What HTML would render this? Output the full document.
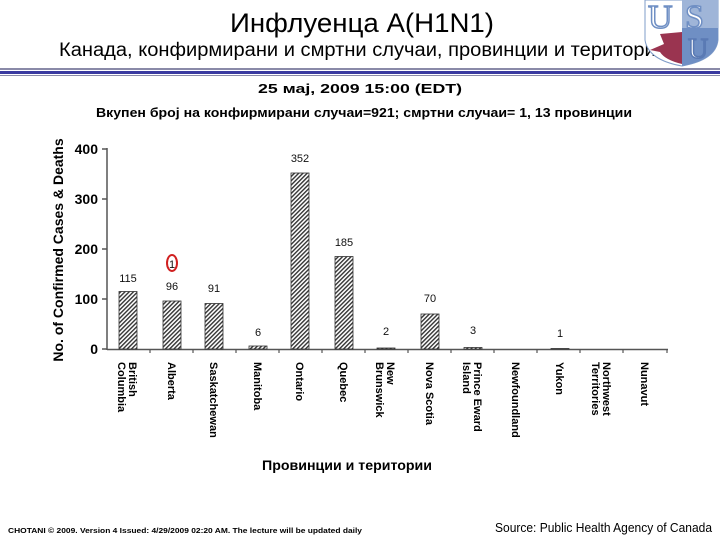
<!DOCTYPE html>
<html><head><meta charset="utf-8"><style>html,body{margin:0;padding:0;background:#fff}svg{display:block}</style></head>
<body>
<svg width="720" height="540" viewBox="0 0 720 540" xmlns="http://www.w3.org/2000/svg" font-family="'Liberation Sans Narrow','Liberation Sans',sans-serif">
<defs>
<pattern id="h" width="3" height="3" patternUnits="userSpaceOnUse" patternTransform="rotate(45)">
<rect width="3" height="3" fill="#fff"/><rect width="1.4" height="3" fill="#333"/>
</pattern>
</defs>
<text x="362" y="32" text-anchor="middle" font-size="27" font-family="'Liberation Sans',sans-serif" textLength="264" lengthAdjust="spacingAndGlyphs">Инфлуенца A(H1N1)</text>
<text x="363" y="56" text-anchor="middle" font-size="19" textLength="608" lengthAdjust="spacingAndGlyphs">Канада, конфирмирани и смртни случаи, провинции и територии</text>
<!-- logo -->
<g>
<path d="M645 0 V40 Q648 60 682 66 Q716 60 718 40 V0 Z" fill="#fff" stroke="#7f9cc8" stroke-width="1"/>
<path d="M682 0 H718 V40 Q716 60 682 66 Z" fill="#9fb5d8"/>
<path d="M682 28 H718 V40 Q716 60 682 66 Z" fill="#6f8fc4"/>
<text x="648" y="28" font-family="'Liberation Serif',serif" font-size="34" fill="#fff" stroke="#6f8fc4" stroke-width="1.5">U</text>
<text x="685" y="28" font-family="'Liberation Serif',serif" font-size="34" fill="#fff" stroke="#6f8fc4" stroke-width="1.5">S</text>
<text x="688" y="58" font-family="'Liberation Serif',serif" font-size="28" fill="#fff" stroke="#5a7ab4" stroke-width="1.5">U</text>
<path d="M660 34 L682 32 L682 64 Q665 60 660 52 L650 50 L664 44 Z" fill="#9a3450"/>
</g>
<rect x="0" y="68" width="720" height="2" fill="#8a8aa8"/>
<rect x="0" y="71" width="720" height="3" fill="#3a3aa0"/>
<rect x="0" y="75" width="720" height="1" fill="#8a8aa8"/>
<text x="360" y="93" text-anchor="middle" font-size="13" font-weight="bold" textLength="204" lengthAdjust="spacingAndGlyphs">25 мај, 2009 15:00 (EDT)</text>
<text x="364" y="117" text-anchor="middle" font-size="13" font-weight="bold" textLength="536" lengthAdjust="spacingAndGlyphs">Вкупен број на конфирмирани случаи=921; смртни случаи= 1, 13  провинции</text>
<!-- axes -->
<g stroke="#555" stroke-width="1.5" fill="none">
<line x1="107" y1="148" x2="107" y2="350"/>
<line x1="107" y1="349.5" x2="668" y2="349.5"/>
<line x1="102" y1="149" x2="107" y2="149"/>
<line x1="102" y1="199" x2="107" y2="199"/>
<line x1="102" y1="249" x2="107" y2="249"/>
<line x1="102" y1="299" x2="107" y2="299"/>
<line x1="102" y1="349" x2="107" y2="349"/>
</g>
<g stroke="#555" stroke-width="1.2">
<line x1="150" y1="349" x2="150" y2="353"/><line x1="193" y1="349" x2="193" y2="353"/><line x1="236" y1="349" x2="236" y2="353"/><line x1="279" y1="349" x2="279" y2="353"/><line x1="322" y1="349" x2="322" y2="353"/><line x1="365" y1="349" x2="365" y2="353"/><line x1="408" y1="349" x2="408" y2="353"/><line x1="451" y1="349" x2="451" y2="353"/><line x1="494" y1="349" x2="494" y2="353"/><line x1="537" y1="349" x2="537" y2="353"/><line x1="580" y1="349" x2="580" y2="353"/><line x1="623" y1="349" x2="623" y2="353"/><line x1="667" y1="349" x2="667" y2="353"/>
</g>
<g font-family="'Liberation Sans',sans-serif" font-weight="bold" font-size="14" text-anchor="end">
<text x="98" y="154">400</text><text x="98" y="204">300</text><text x="98" y="254">200</text><text x="98" y="304">100</text><text x="98" y="354">0</text>
</g>
<text transform="translate(63,250) rotate(-90)" text-anchor="middle" font-family="'Liberation Sans',sans-serif" font-weight="bold" font-size="14">No. of Confirmed Cases &amp; Deaths</text>
<!-- bars -->
<g fill="url(#h)" stroke="#333" stroke-width="0.8">
<rect x="119" y="291.5" width="18" height="57.5"/>
<rect x="163" y="301" width="18" height="48"/>
<rect x="205" y="303.5" width="18" height="45.5"/>
<rect x="249" y="346" width="18" height="3"/>
<rect x="291" y="173" width="18" height="176"/>
<rect x="335" y="256.5" width="18" height="92.5"/>
<rect x="377" y="348" width="18" height="1"/>
<rect x="421" y="314" width="18" height="35"/>
<rect x="464" y="347.5" width="18" height="1.5"/>
<rect x="551" y="348.5" width="18" height="0.5"/>
</g>
<g font-family="'Liberation Sans',sans-serif" font-size="11" text-anchor="middle" fill="#111">
<text x="128" y="282">115</text><text x="172" y="290">96</text><text x="214" y="292">91</text><text x="258" y="336">6</text><text x="300" y="162">352</text><text x="344" y="246">185</text><text x="386" y="335">2</text><text x="430" y="302">70</text><text x="473" y="334">3</text><text x="560" y="337">1</text>
<text x="172" y="268">1</text>
</g>
<ellipse cx="172" cy="263" rx="5" ry="8" fill="none" stroke="#d02020" stroke-width="2"/>
<!-- category labels -->
<g font-family="'Liberation Sans',sans-serif" font-weight="bold" font-size="11">
<text transform="translate(129,362) rotate(90)">British<tspan x="0" dy="11">Columbia</tspan></text>
<text transform="translate(168,362) rotate(90)">Alberta</text>
<text transform="translate(210,362) rotate(90)">Saskatchewan</text>
<text transform="translate(254,362) rotate(90)">Manitoba</text>
<text transform="translate(296,362) rotate(90)">Ontario</text>
<text transform="translate(340,362) rotate(90)">Quebec</text>
<text transform="translate(387,362) rotate(90)">New<tspan x="0" dy="11">Brunswick</tspan></text>
<text transform="translate(426,362) rotate(90)">Nova Scotia</text>
<text transform="translate(474,362) rotate(90)">Prince Eward<tspan x="0" dy="11">Island</tspan></text>
<text transform="translate(512,362) rotate(90)">Newfoundland</text>
<text transform="translate(556,362) rotate(90)">Yukon</text>
<text transform="translate(603,362) rotate(90)">Northwest<tspan x="0" dy="11">Territories</tspan></text>
<text transform="translate(641,362) rotate(90)">Nunavut</text>
</g>
<text x="347" y="470" text-anchor="middle" font-size="14" font-weight="bold" textLength="170" lengthAdjust="spacingAndGlyphs">Провинции и територии</text>
<text x="8" y="533" font-size="7" font-weight="bold" textLength="354" lengthAdjust="spacingAndGlyphs">CHOTANI © 2009. Version 4 Issued: 4/29/2009 02:20 AM. The lecture will be updated daily</text>
<text x="495" y="532" font-size="13" textLength="217" lengthAdjust="spacingAndGlyphs">Source: Public Health Agency of Canada</text>
</svg>
</body></html>
